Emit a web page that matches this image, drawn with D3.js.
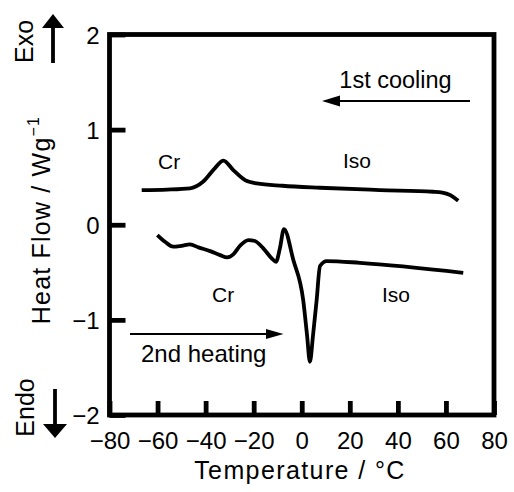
<!DOCTYPE html>
<html>
<head>
<meta charset="utf-8">
<script src="https://cdn.jsdelivr.net/npm/d3@7"></script>
<style>
  html, body { margin: 0; padding: 0; background: #fff; }
  svg { display: block; }
  text { font-family: "Liberation Sans", Arial, sans-serif; fill: #000; }
</style>
</head>
<body>
<svg id="chart" width="514" height="492"></svg>
<script>
// ---- data ----
const xTicks = [-80, -60, -40, -20, 0, 20, 40, 60, 80];
const yTicks = [-2, -1, 0, 1, 2];

// 1st cooling trace: temperature (°C) and heat flow (W/g)
const coolT  = [-66.6, -56, -46.5, -41.1, -36.1, -32.6, -28.5, -23.6, -18.7, -8, 7.6, 32.5, 54.6, 58.5, 61.7, 65.1];
const coolHF = [0.365, 0.37, 0.383, 0.452, 0.596, 0.675, 0.575, 0.470, 0.435, 0.41, 0.389, 0.365, 0.347, 0.338, 0.312, 0.252];

// 2nd heating trace
const heatT  = [-60.1, -56.9, -53.5, -50.0, -46.5, -43.0, -38.1, -34.0, -31.0, -28.5, -25.7, -22.2, -19.5, -16.0, -12.5, -10.7, -9.1, -7.4, -3.5, 0.6, 2.2, 3.4, 4.7, 6.2, 7.6, 10.4, 24.2, 67.2];
const heatHF = [-0.108, -0.179, -0.231, -0.221, -0.206, -0.238, -0.277, -0.319, -0.343, -0.311, -0.221, -0.161, -0.171, -0.248, -0.353, -0.389, -0.248, -0.045, -0.371, -0.792, -1.16, -1.44, -1.16, -0.792, -0.434, -0.382, -0.40, -0.505];

// ---- layout ----
const svg = d3.select("#chart");
const X0 = 109.5, X1 = 494, Y0 = 34.5, Y1 = 415;
const x = d3.scaleLinear().domain([-80, 80]).range([X0, X1]);
const y = d3.scaleLinear().domain([-2, 2]).range([Y1, Y0]);

const fmt = d => d3.format("")(d);
const FRAME_W = 4.8;

// y axis
const yAxis = svg.append("g").attr("transform", `translate(${X0},0)`)
  .call(d3.axisLeft(y).tickValues(yTicks).tickFormat(fmt).tickSizeInner(-16).tickSizeOuter(0).tickPadding(10));
yAxis.select(".domain").remove();
yAxis.selectAll(".tick line").attr("stroke", "#000").attr("stroke-width", FRAME_W);
yAxis.selectAll(".tick text").attr("font-size", 24).attr("font-family", "Liberation Sans, Arial, sans-serif").attr("dy", "0.36em");

// x axis
const xAxis = svg.append("g").attr("transform", `translate(0,${Y1})`)
  .call(d3.axisBottom(x).tickValues(xTicks).tickFormat(fmt).tickSizeInner(-14).tickSizeOuter(0).tickPadding(17));
xAxis.select(".domain").remove();
xAxis.selectAll(".tick line").attr("stroke", "#000").attr("stroke-width", FRAME_W);
xAxis.selectAll(".tick text").attr("font-size", 24).attr("font-family", "Liberation Sans, Arial, sans-serif");

// frame
svg.append("rect").attr("x", X0).attr("y", Y0).attr("width", X1 - X0).attr("height", Y1 - Y0)
  .attr("fill", "none").attr("stroke", "#000").attr("stroke-width", FRAME_W);

// traces
const line = d3.line().x(d => x(d[0])).y(d => y(d[1])).curve(d3.curveMonotoneX);
svg.append("path").datum(coolT.map((t, i) => [t, coolHF[i]]))
  .attr("d", line).attr("fill", "none").attr("stroke", "#000").attr("stroke-width", 3.8)
  .attr("stroke-linejoin", "round").attr("stroke-linecap", "butt");
svg.append("path").datum(heatT.map((t, i) => [t, heatHF[i]]))
  .attr("d", line).attr("fill", "none").attr("stroke", "#000").attr("stroke-width", 3.8)
  .attr("stroke-linejoin", "round").attr("stroke-linecap", "butt");

// axis titles
svg.append("text").attr("x", 300).attr("y", 479).attr("text-anchor", "middle")
  .attr("font-size", 25).attr("letter-spacing", 1.4).text("Temperature / °C");
const yt = svg.append("text").attr("transform", "translate(50,220) rotate(-90)")
  .attr("text-anchor", "middle").attr("font-size", 25).attr("letter-spacing", 1.2);
yt.append("tspan").text("Heat Flow / Wg");
yt.append("tspan").attr("font-size", 16).attr("dy", -11).text("−1");

// Exo / Endo
svg.append("text").attr("transform", "translate(33,41.5) rotate(-90)").attr("text-anchor", "middle")
  .attr("font-size", 25).text("Exo");
svg.append("text").attr("transform", "translate(34,407.5) rotate(-90)").attr("text-anchor", "middle")
  .attr("font-size", 25).text("Endo");
svg.append("line").attr("x1", 53).attr("x2", 53).attr("y1", 63).attr("y2", 27).attr("stroke", "#000").attr("stroke-width", 3.8);
svg.append("path").attr("d", "M42,28 L64,28 L53,14 Z").attr("fill", "#000");
svg.append("line").attr("x1", 55).attr("x2", 55).attr("y1", 389).attr("y2", 425).attr("stroke", "#000").attr("stroke-width", 3.8);
svg.append("path").attr("d", "M43,424 L67,424 L55,438 Z").attr("fill", "#000");

// annotations
function label(tx, ty, str, size, anchor) {
  svg.append("text").attr("x", tx).attr("y", ty).attr("font-size", size)
    .attr("text-anchor", anchor || "start").text(str);
}
label(395.5, 88, "1st cooling", 23.5, "middle");
label(158, 169, "Cr", 21);
label(343, 168, "Iso", 21);
label(212, 302, "Cr", 21);
label(382, 302, "Iso", 21);
label(141, 362, "2nd heating", 24);

// direction arrows
svg.append("line").attr("x1", 470).attr("x2", 336).attr("y1", 101).attr("y2", 101).attr("stroke", "#000").attr("stroke-width", 2.2);
svg.append("path").attr("d", "M322,101 L340,95.5 L340,106.5 Z").attr("fill", "#000");
svg.append("line").attr("x1", 130).attr("x2", 270).attr("y1", 334).attr("y2", 334).attr("stroke", "#000").attr("stroke-width", 2.2);
svg.append("path").attr("d", "M283.5,334 L266,329 L266,339 Z").attr("fill", "#000");
</script>
</body>
</html>
